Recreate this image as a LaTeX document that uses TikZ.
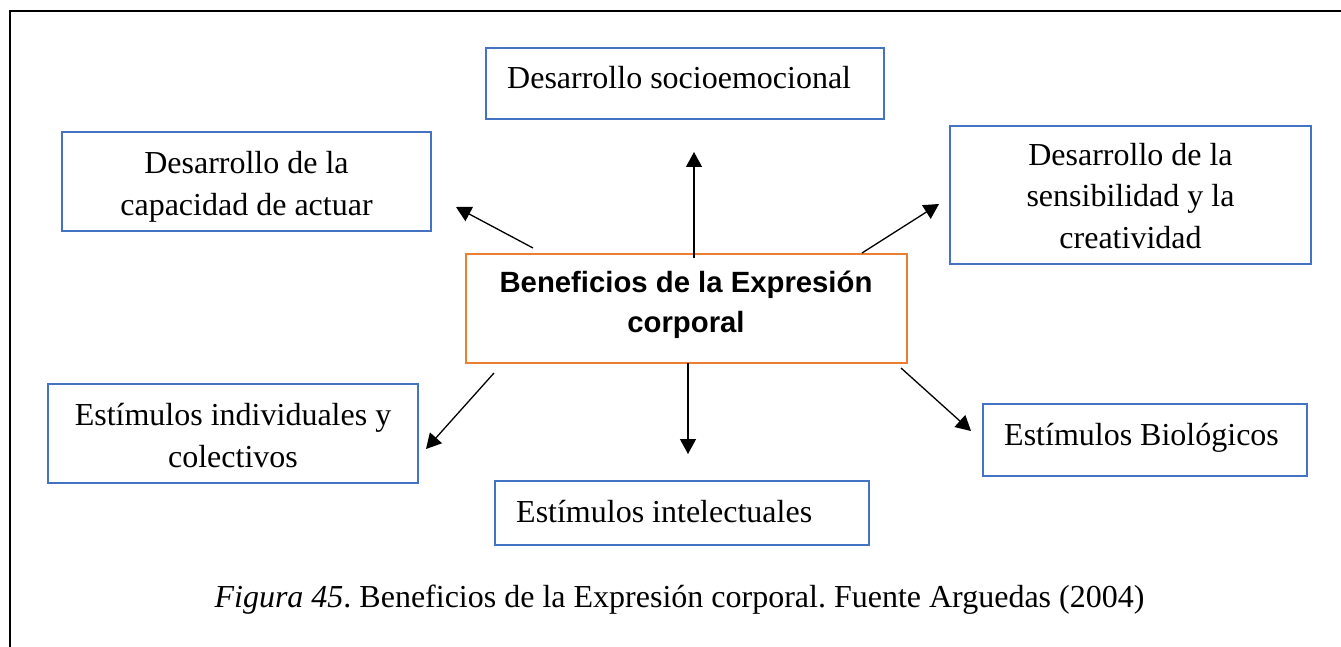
\documentclass[tikz,border=0pt]{standalone}
\usepackage{fontspec}
\setmainfont{Liberation Serif}
\setsansfont{Liberation Sans}
\usetikzlibrary{arrows.meta}
\definecolor{boxblue}{HTML}{4472C4}
\definecolor{boxorange}{HTML}{ED7D31}
\frenchspacing
\tikzset{
  bluebox/.style={draw=boxblue, line width=2.6pt, rectangle, inner sep=0pt},
  orangebox/.style={draw=boxorange, line width=2.6pt, rectangle, inner sep=0pt},
  serif32/.style={font=\fontsize{32}{41.5}\selectfont, inner sep=0pt, align=center},
  leftlabel/.style={font=\fontsize{32}{41.5}\selectfont, inner sep=0pt, anchor=base west},
  boldlabel/.style={font=\sffamily\bfseries\fontsize{29.3}{40}\selectfont, inner sep=0pt, align=center, anchor=base},
  conn/.style={line width=1.3pt, -{Triangle[length=15pt,width=16pt]}},
  frame/.style={line width=2.6pt, line cap=rect}
}
\begin{document}
\begin{tikzpicture}[x=1pt,y=-1pt]
\useasboundingbox (0,0) rectangle (1341,647);
% frame (top and left)
\coordinate (ftl) at (10,11);
\coordinate (ftr) at (1345,11);
\coordinate (fbl) at (10,652);
\draw[frame] (ftr) -- (ftl) -- (fbl);

% boxes
\node[bluebox, minimum width=369pt, minimum height=99pt] (cap) at (246.5,181.5) {};
\node[bluebox, minimum width=398pt, minimum height=71pt] (socio) at (685,83.5) {};
\node[bluebox, minimum width=361pt, minimum height=138pt] (sens) at (1130.5,195) {};
\node[orangebox, minimum width=441pt, minimum height=109pt] (center) at (686.5,308.5) {};
\node[bluebox, minimum width=370pt, minimum height=99pt] (indiv) at (233,433.5) {};
\node[bluebox, minimum width=374pt, minimum height=64pt] (intel) at (682,513) {};
\node[bluebox, minimum width=324pt, minimum height=72pt] (bio) at (1145,440) {};

% texts (multi-line nodes: base = baseline of last line)
\node[serif32, anchor=base] (captxt) at (246.5,215) {Desarrollo de la\\capacidad de actuar};
\node[leftlabel] (sociotxt) at (507,89) {Desarrollo socioemocional};
\node[serif32, anchor=base] (senstxt) at (1130.5,248) {Desarrollo de la\\sensibilidad y la\\creatividad};
\node[boldlabel] (centertxt) at (686,332) {Beneficios de la Expresión\\corporal};
\node[serif32, anchor=base] (indivtxt) at (233,467) {Estímulos individuales y\\colectivos};
\node[leftlabel] (inteltxt) at (516,522) {Estímulos intelectuales};
\node[leftlabel] (biotxt) at (1004,445) {Estímulos Biológicos};
\node[font=\fontsize{32}{41.5}\selectfont, inner sep=0pt, anchor=base] (caption) at (679.5,607)
  {\textit{Figura 45}. Beneficios de la Expresión corporal. Fuente Arguedas (2004)};

% connector end points
\coordinate (s-ul) at (533,248);  \coordinate (e-ul) at (456,207);
\coordinate (s-up) at (694,258);  \coordinate (e-up) at (694,152);
\coordinate (s-ur) at (862,253);  \coordinate (e-ur) at (939,204);
\coordinate (s-ll) at (494,373);  \coordinate (e-ll) at (426,449);
\coordinate (s-dn) at (688,363);  \coordinate (e-dn) at (688,454);
\coordinate (s-lr) at (901,368);  \coordinate (e-lr) at (971,431);

\draw[conn] (s-ul) -- (e-ul);
\draw[conn] (s-up) -- (e-up);
\draw[conn] (s-ur) -- (e-ur);
\draw[conn] (s-ll) -- (e-ll);
\draw[conn] (s-dn) -- (e-dn);
\draw[conn] (s-lr) -- (e-lr);
\end{tikzpicture}
\end{document}
